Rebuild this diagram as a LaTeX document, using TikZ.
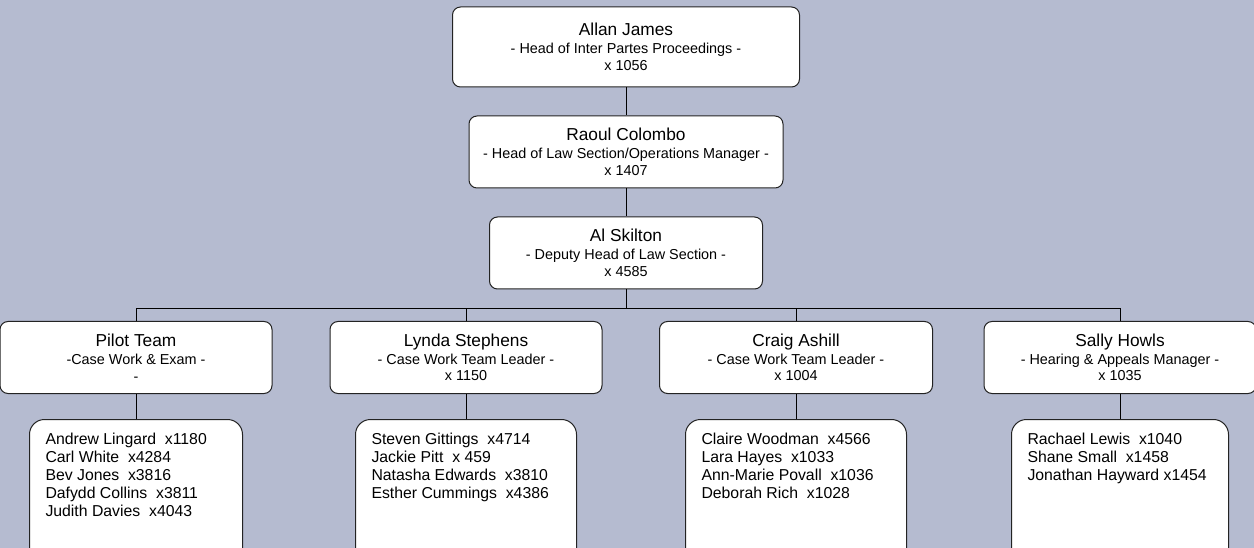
\documentclass[tikz,border=0pt]{standalone}
\usepackage{fontspec}
\setmainfont{Liberation Sans}
\usetikzlibrary{positioning}
\definecolor{canvas}{RGB}{181,187,208}
\definecolor{rim}{RGB}{35,35,35}

\begin{document}
\begin{tikzpicture}[
  x=1pt, y=1pt,
  node distance=28pt,
  post/.style={rectangle, draw=rim, rounded corners=8pt, fill=white, line width=1pt,
               minimum height=72pt, align=center, inner sep=0pt,
               font=\fontsize{14.4}{16.5}\selectfont},
  members/.style={rectangle, draw=rim, rounded corners=15pt, fill=white, line width=1pt,
                  inner xsep=16pt, inner ysep=14pt,
                  font=\fontsize{15.8}{17.8}\selectfont},
  who/.style={font=\fontsize{17.3}{20}\selectfont},
  link/.style={draw=black, line width=1pt}
]
\path[use as bounding box, fill=canvas] (0,0) rectangle (1254,-548);
\clip (0,0) rectangle (1254,-548);

% management chain
\node[post, minimum width=347pt, minimum height=80pt] (allan) at (626,-47)
  {{\fontsize{17.3}{20}\selectfont Allan James}\\[1.5pt]
   - Head of Inter Partes Proceedings -\\ x 1056};
\node[post, minimum width=314pt, below=of allan] (raoul)
  {{\fontsize{17.3}{20}\selectfont Raoul Colombo}\\[1.5pt]
   - Head of Law Section/Operations Manager -\\ x 1407};
\node[post, minimum width=273pt, below=of raoul] (skilton)
  {{\fontsize{17.3}{20}\selectfont Al Skilton}\\[1.5pt]
   - Deputy Head of Law Section -\\ x 4585};

% team leaders
\node[post, minimum width=272pt] (pilot) at (136,-357.5)
  {{\fontsize{17.3}{20}\selectfont Pilot Team}\\[1.5pt]
   -Case Work \& Exam -\\ -};
\node[post, minimum width=272pt] (lynda) at (466,-357.5)
  {{\fontsize{17.3}{20}\selectfont Lynda Stephens}\\[1.5pt]
   - Case Work Team Leader -\\ x 1150};
\node[post, minimum width=273pt] (craig) at (796,-357.5)
  {{\fontsize{17.3}{20}\selectfont Craig Ashill}\\[1.5pt]
   - Case Work Team Leader -\\ x 1004};
\node[post, minimum width=272pt] (sally) at (1120,-357.5)
  {{\fontsize{17.3}{20}\selectfont Sally Howls}\\[1.5pt]
   - Hearing \& Appeals Manager -\\ x 1035};

% team members
\node[members, below=25pt of pilot] (pilot-list)
  {\parbox[c][122pt][t]{181pt}{Andrew Lingard~ x1180\\ Carl White~ x4284\\
   Bev Jones~ x3816\\ Dafydd Collins~ x3811\\ Judith Davies~ x4043}};
\node[members, below=25pt of lynda] (lynda-list)
  {\parbox[c][122pt][t]{189pt}{Steven Gittings~ x4714\\ Jackie Pitt~ x 459\\
   Natasha Edwards~ x3810\\ Esther Cummings~ x4386}};
\node[members, below=25pt of craig] (craig-list)
  {\parbox[c][122pt][t]{189pt}{Claire Woodman~ x4566\\ Lara Hayes~ x1033\\
   Ann-Marie Povall~ x1036\\ Deborah Rich~ x1028}};
\node[members, below=25pt of sally] (sally-list)
  {\parbox[c][122pt][t]{185pt}{Rachael Lewis~ x1040\\ Shane Small~ x1458\\
   Jonathan Hayward x1454}};

\draw[link] (allan) -- (raoul);
\draw[link] (raoul) -- (skilton);
\foreach \t in {pilot,lynda,craig,sally} {
  \draw[link] (skilton.south) -- ++(0,-19) -| (\t.north);
  \draw[link] (\t) -- (\t-list);
}
\end{tikzpicture}
\end{document}
